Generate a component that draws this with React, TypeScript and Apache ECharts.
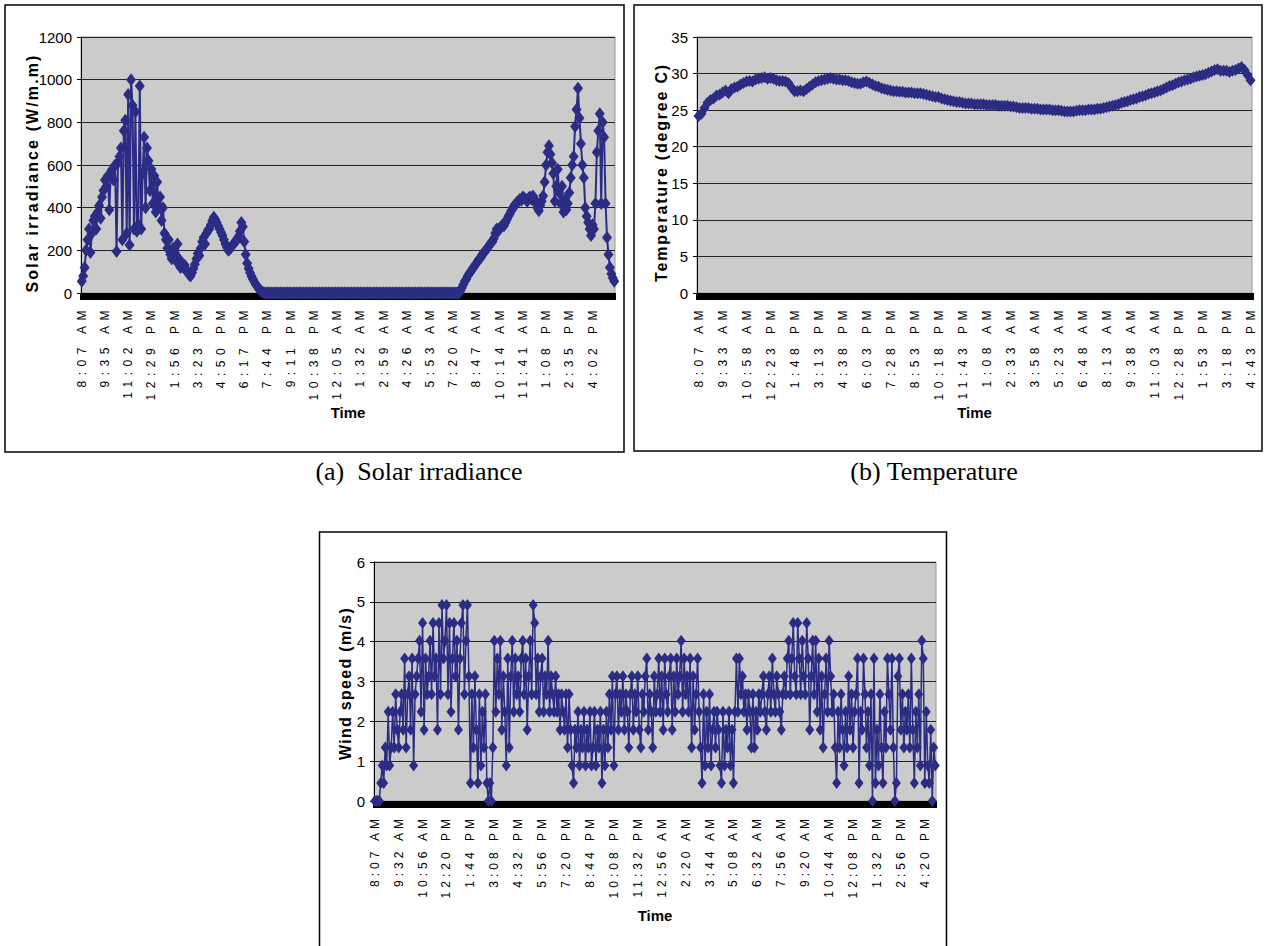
import React, { useEffect, useRef } from 'react';
import * as echarts from 'echarts';

// ---- tick labels ----
const solarLabels = ['8:07 AM', '9:35 AM', '11:02 AM', '12:29 PM', '1:56 PM', '3:23 PM', '4:50 PM', '6:17 PM', '7:44 PM', '9:11 PM', '10:38 PM', '12:05 AM', '1:32 AM', '2:59 AM', '4:26 AM', '5:53 AM', '7:20 AM', '8:47 AM', '10:14 AM', '11:41 AM', '1:08 PM', '2:35 PM', '4:02 PM'];
const tempLabels = ['8:07 AM', '9:33 AM', '10:58 AM', '12:23 PM', '1:48 PM', '3:13 PM', '4:38 PM', '6:03 PM', '7:28 PM', '8:53 PM', '10:18 PM', '11:43 PM', '1:08 AM', '2:33 AM', '3:58 AM', '5:23 AM', '6:48 AM', '8:13 AM', '9:38 AM', '11:03 AM', '12:28 PM', '1:53 PM', '3:18 PM', '4:43 PM'];
const windLabels = ['8:07 AM', '9:32 AM', '10:56 AM', '12:20 PM', '1:44 PM', '3:08 PM', '4:32 PM', '5:56 PM', '7:20 PM', '8:44 PM', '10:08 PM', '11:32 PM', '12:56 AM', '2:20 AM', '3:44 AM', '5:08 AM', '6:32 AM', '7:56 AM', '9:20 AM', '10:44 AM', '12:08 PM', '1:32 PM', '2:56 PM', '4:20 PM'];

// ---- series values (solar & wind: 16 samples per label step, temperature: 8) ----
const solarValues = [
  55, 80, 120, 200, 250, 300, 190, 280, 340, 360, 300, 380, 410, 350, 450, 480, 530, 500, 550, 390,
  560, 580, 530, 600, 195, 610, 640, 680, 250, 760, 810, 280, 930, 225, 1000, 880, 300, 850, 290, 320,
  970, 300, 560, 730, 400, 680, 620, 480, 580, 420, 550, 380, 520, 400, 450, 340, 400, 280, 250, 210,
  250, 180, 160, 210, 175, 150, 230, 160, 120, 140, 120, 130, 105, 100, 85, 80, 95, 115, 135, 160,
  185, 175, 210, 240, 260, 230, 280, 295, 300, 320, 340, 355, 345, 330, 315, 300, 285, 270, 250, 230,
  215, 200, 205, 215, 225, 235, 240, 250, 265, 290, 330, 310, 240, 180, 140, 115, 95, 78, 65, 52,
  40, 30, 20, 12, 6, 2,
  0, 0, 0, 0, 0, 0, 0, 0, 0, 0, 0, 0, 0, 0, 0,
  0, 0, 0, 0, 0, 0, 0, 0, 0, 0, 0, 0, 0, 0, 0,
  0, 0, 0, 0, 0, 0, 0, 0, 0, 0, 0, 0, 0, 0, 0,
  0, 0, 0, 0, 0, 0, 0, 0, 0, 0, 0, 0, 0, 0, 0,
  0, 0, 0, 0, 0, 0, 0, 0, 0, 0, 0, 0, 0, 0, 0,
  0, 0, 0, 0, 0, 0, 0, 0, 0, 0, 0, 0, 0, 0, 0,
  0, 0, 0, 0, 0, 0, 0, 0, 0, 0, 0, 0, 0, 0, 0,
  0, 0, 0, 0, 0, 0, 0, 0, 0, 0, 0, 0, 0, 0, 0,
  0, 0, 0, 0, 0, 0, 0, 0, 0, 0, 0, 0, 0, 0, 0,
  10, 25, 40, 55, 65, 80, 90, 100, 110, 120, 130, 140, 150, 160, 165, 180, 190, 195, 205, 215,
  225, 235, 240, 255, 280, 300, 290, 305, 310, 320, 315, 330, 345, 360, 370, 385, 395, 410, 415, 425,
  430, 440, 435, 450, 445, 440, 430, 445, 450, 440, 455, 440, 420, 400, 385, 410, 430, 455, 520, 600,
  660, 690, 650, 610, 560, 430, 500, 580, 470, 420, 500, 380, 440, 390, 420, 470, 540, 600, 640, 780,
  860, 960, 820, 700, 600, 540, 400, 360, 330, 300, 270, 320, 300, 420, 660, 760, 840, 420, 800, 730,
  420, 260, 180, 120, 90, 70, 55
];

const tempValues = [
  24.2, 24.5, 25.3, 26.0, 26.4, 26.6, 27.0, 27.1, 27.4, 27.7,
  27.3, 27.9, 28.1, 28.2, 28.5, 28.7, 28.9, 29.0, 28.9, 29.2,
  29.3, 29.4, 29.5, 29.3, 29.4, 29.3, 29.1, 29.0, 29.0, 28.9,
  28.7, 28.1, 27.6, 27.6, 27.7, 27.6, 27.9, 28.2, 28.5, 28.8,
  29.0, 29.1, 29.2, 29.3, 29.4, 29.3, 29.2, 29.2, 29.1, 29.1,
  29.0, 28.8, 28.7, 28.6, 28.6, 28.8, 28.9, 28.7, 28.5, 28.3,
  28.2, 28.0, 27.9, 27.8, 27.7, 27.6, 27.6, 27.5, 27.5, 27.4,
  27.4, 27.4, 27.3, 27.3, 27.3, 27.2, 27.1, 27.0, 26.9, 26.8,
  26.8, 26.6, 26.5, 26.4, 26.3, 26.2, 26.1, 26.1, 26.0, 25.9,
  25.9, 25.9, 25.8, 25.8, 25.8, 25.8, 25.7, 25.7, 25.7, 25.7,
  25.6, 25.6, 25.6, 25.6, 25.5, 25.5, 25.4, 25.3, 25.3, 25.3,
  25.3, 25.2, 25.2, 25.2, 25.1, 25.1, 25.1, 25.1, 25.0, 25.0,
  25.0, 24.9, 24.8, 24.8, 24.8, 24.8, 24.9, 25.0, 25.0, 25.0,
  25.1, 25.1, 25.1, 25.2, 25.2, 25.3, 25.4, 25.5, 25.6, 25.7,
  25.8, 26.0, 26.1, 26.2, 26.4, 26.5, 26.6, 26.8, 26.9, 27.0,
  27.2, 27.3, 27.4, 27.6, 27.7, 27.9, 28.1, 28.3, 28.4, 28.6,
  28.8, 28.9, 29.1, 29.2, 29.3, 29.5, 29.6, 29.7, 29.8, 29.9,
  30.1, 30.3, 30.5, 30.6, 30.4, 30.4, 30.4, 30.2, 30.4, 30.5,
  30.7, 30.9, 30.5, 29.8, 29.1
];

const windValues = [
  0, 0, 0, 0, 0.45, 0.89, 0.45, 1.34, 0.89, 2.24,
  0.89, 1.34, 2.24, 1.34, 2.68, 1.79, 1.34, 2.24, 2.68, 1.79,
  3.58, 1.34, 2.68, 3.13, 1.79, 3.58, 0.89, 2.68, 3.13, 3.58,
  4.02, 2.24, 4.47, 1.79, 3.58, 2.68, 3.13, 4.02, 2.68, 4.47,
  3.13, 3.58, 1.79, 4.47, 2.68, 4.92, 3.58, 4.02, 4.92, 2.68,
  4.47, 2.24, 3.58, 4.47, 3.13, 4.02, 1.79, 3.58, 4.47, 4.92,
  2.68, 4.02, 4.92, 3.13, 0.45, 2.68, 1.34, 3.13, 1.79, 0.45,
  2.68, 0.89, 2.24, 1.34, 2.68, 0.45, 0, 0.45, 0, 1.34,
  4.02, 2.24, 3.58, 2.68, 4.02, 1.79, 3.13, 2.24, 0.89, 3.58,
  1.34, 3.13, 4.02, 2.24, 3.58, 2.68, 3.13, 2.24, 3.58, 4.02,
  2.68, 3.58, 1.79, 3.13, 4.02, 2.68, 4.92, 4.47, 2.68, 3.58,
  2.24, 3.13, 3.58, 2.24, 3.13, 2.68, 4.02, 2.24, 3.13, 2.68,
  2.24, 3.13, 2.24, 2.68, 1.79, 2.68, 2.24, 1.79, 2.68, 1.34,
  2.68, 1.79, 0.89, 0.45, 1.79, 1.34, 2.24, 0.89, 1.79, 1.34,
  2.24, 0.89, 1.79, 1.34, 2.24, 0.89, 1.34, 2.24, 0.89, 1.79,
  1.34, 2.24, 0.45, 1.79, 0.89, 2.24, 1.34, 2.68, 1.79, 3.13,
  0.89, 2.68, 3.13, 1.79, 2.68, 2.24, 3.13, 1.79, 2.68, 2.24,
  1.34, 2.68, 3.13, 1.79, 2.68, 2.24, 3.13, 1.79, 1.34, 2.68,
  2.24, 3.13, 3.58, 1.79, 2.68, 2.24, 1.34, 3.13, 2.24, 2.68,
  3.58, 2.24, 3.13, 1.79, 3.58, 2.68, 2.24, 3.13, 3.58, 1.79,
  3.13, 2.24, 3.58, 2.68, 3.13, 4.02, 2.24, 3.58, 2.68, 3.13,
  2.24, 3.58, 1.34, 3.13, 1.79, 2.68, 3.58, 2.24, 1.34, 0.45,
  2.68, 0.89, 2.24, 1.34, 2.68, 0.89, 1.79, 2.24, 1.34, 2.24,
  1.79, 0.89, 0.45, 2.24, 0.89, 1.79, 1.34, 2.24, 0.89, 1.79,
  0.45, 2.24, 3.58, 2.24, 3.58, 2.68, 3.13, 2.24, 2.68, 1.79,
  2.68, 2.24, 1.34, 2.68, 1.34, 2.24, 1.79, 2.68, 2.24, 2.68,
  3.13, 2.24, 1.79, 2.68, 3.13, 2.24, 3.58, 2.68, 2.24, 3.13,
  2.68, 2.24, 1.79, 2.68, 3.13, 2.68, 3.58, 4.02, 2.68, 3.58,
  4.47, 3.13, 2.68, 4.47, 3.58, 2.68, 4.02, 3.13, 2.68, 4.47,
  3.58, 1.79, 3.13, 4.02, 2.68, 4.02, 2.24, 3.58, 1.79, 3.13,
  1.34, 2.68, 3.58, 2.24, 4.02, 3.13, 2.24, 2.68, 1.34, 0.45,
  2.24, 1.34, 2.68, 1.79, 0.89, 2.24, 1.34, 3.13, 1.79, 2.68,
  1.34, 2.24, 2.68, 3.58, 0.45, 2.24, 1.79, 3.58, 2.68, 1.34,
  2.24, 0.89, 2.68, 0, 3.58, 0.45, 1.79, 0.89, 2.68, 1.34,
  0.45, 2.24, 1.34, 3.58, 2.68, 1.79, 3.58, 1.34, 0, 0.45,
  3.13, 3.58, 1.79, 2.68, 1.34, 2.24, 1.79, 2.68, 1.34, 3.58,
  1.79, 0.45, 2.24, 1.34, 2.68, 0.89, 4.02, 3.58, 0.45, 2.24,
  0.89, 0.45, 1.79, 0, 1.34, 0.89
];

const solarTitle = 'Solar irradiance (W/m.m)';
const tempTitle = 'Temperature (degree C)';
const windTitle = 'Wind speed (m/s)';
const captionA = '(a)  Solar irradiance';
const captionB = '(b) Temperature';

const NAVY = '#2b2d84';
const SANS = "'Liberation Sans', Arial, sans-serif";
const SERIF = "'Liberation Serif', 'Times New Roman', serif";

function xAxis(gridIndex: number, count: number, labels: string[], step: number, margin: number, nameGap: number, tickWidth: number) {
  return {
    type: 'category',
    gridIndex,
    data: Array.from({ length: count }, (_, i) => String(i)),
    boundaryGap: true,
    axisLine: { show: true, lineStyle: { color: '#000', width: 1 } },
    axisTick: { show: true, interval: 0, length: 7, lineStyle: { color: '#000', width: tickWidth } },
    axisLabel: {
      interval: (idx: number) => idx % step === 0,
      rotate: 90,
      margin,
      fontSize: 12,
      color: '#000',
      fontFamily: SANS,
      formatter: (_v: string, idx: number) => (idx % step === 0 ? labels[idx / step] ?? '' : ''),
    },
    splitLine: { show: false },
    name: 'Time',
    nameLocation: 'middle',
    nameGap,
    nameMoveOverlap: false,
    nameTextStyle: { fontFamily: SANS, fontWeight: 'bold', fontSize: 15, color: '#000' },
  };
}

function yAxis(gridIndex: number, max: number, interval: number, name: string, nameGap: number, shiftPad: number) {
  return {
    type: 'value',
    gridIndex,
    min: 0,
    max,
    interval,
    axisLine: { show: true, lineStyle: { color: '#000', width: 1 } },
    axisTick: { show: true, length: 4, lineStyle: { color: '#000' } },
    splitLine: { show: true, lineStyle: { color: '#222', width: 1 } },
    axisLabel: { margin: 9, fontSize: 15, color: '#000', fontFamily: SANS, formatter: (v: number) => String(v) },
    name,
    nameLocation: 'middle',
    nameGap,
    nameMoveOverlap: false,
    nameTextStyle: { fontFamily: SANS, fontWeight: 'bold', fontSize: 16, color: '#000', padding: [0, shiftPad, 0, 0] },
  };
}

function lineSeries(idx: number, data: number[], size: number[], width: number) {
  return {
    type: 'line',
    xAxisIndex: idx,
    yAxisIndex: idx,
    data,
    symbol: 'diamond',
    symbolSize: size,
    showSymbol: true,
    showAllSymbol: true,
    lineStyle: { color: NAVY, width },
    itemStyle: { color: NAVY },
    emphasis: { disabled: true },
    silent: true,
    animation: false,
  };
}

export default function App() {
  const ref = useRef<HTMLDivElement>(null);
  useEffect(() => {
    const el = ref.current!;
    const chart = echarts.init(el, undefined, { renderer: 'svg' });
    const gridBase = { show: true, backgroundColor: '#cbcbcb', borderColor: '#999', borderWidth: 1, containLabel: false };
    chart.setOption({
      animation: false,
      backgroundColor: '#fff',
      grid: [
        { ...gridBase, left: 81, top: 37, width: 534, height: 256 },
        { ...gridBase, left: 697, top: 37, width: 555, height: 256 },
        { ...gridBase, left: 374, top: 562, width: 562, height: 239 },
      ],
      xAxis: [
        xAxis(0, solarValues.length, solarLabels, 16, 12, 112, 2),
        xAxis(1, tempValues.length, tempLabels, 8, 12, 112, 3),
        xAxis(2, windValues.length, windLabels, 16, 14, 107, 2),
      ],
      yAxis: [
        yAxis(0, 1200, 200, solarTitle, 41, 16),
        yAxis(1, 35, 5, tempTitle, 28, 15),
        yAxis(2, 6, 1, windTitle, 21, 4),
      ],
      series: [
        lineSeries(0, solarValues, [10, 13], 2),
        lineSeries(1, tempValues, [10, 12], 2),
        lineSeries(2, windValues, [9, 12], 1.5),
      ],
      graphic: [
        { type: 'rect', silent: true, shape: { x: 5, y: 5, width: 619, height: 447 }, style: { fill: 'none', stroke: '#000', lineWidth: 1.5 } },
        { type: 'rect', silent: true, shape: { x: 634, y: 5, width: 628, height: 446 }, style: { fill: 'none', stroke: '#000', lineWidth: 1.5 } },
        { type: 'rect', silent: true, shape: { x: 319.5, y: 532, width: 627, height: 430 }, style: { fill: 'none', stroke: '#000', lineWidth: 1.5 } },
        { type: 'text', silent: true, x: 419, y: 471, style: { text: captionA, fontFamily: SERIF, fontSize: 26, fill: '#000', align: 'center', verticalAlign: 'middle' } },
        { type: 'text', silent: true, x: 934, y: 471, style: { text: captionB, fontFamily: SERIF, fontSize: 26, fill: '#000', align: 'center', verticalAlign: 'middle' } },
      ],
    });

    const timeSet = new Set([...solarLabels, ...tempLabels, ...windLabels]);
    const spacing: Record<string, string> = { [solarTitle]: '2.1', [tempTitle]: '1.8', [windTitle]: '1.3' };
    const applySpacing = () => {
      el.querySelectorAll('text').forEach((t) => {
        const s = (t.textContent || '').trim();
        if (timeSet.has(s)) {
          const top = t.getBoundingClientRect().top;
          t.setAttribute('letter-spacing', top > 500 ? '4' : '5.5');
        } else if (spacing[s]) {
          t.setAttribute('letter-spacing', spacing[s]);
        } else if (s === captionA.trim()) {
          (t as SVGTextElement).style.whiteSpace = 'pre';
        }
      });
    };
    applySpacing();
    chart.on('finished', applySpacing);
    const timer = window.setTimeout(applySpacing, 50);
    return () => {
      window.clearTimeout(timer);
      chart.dispose();
    };
  }, []);
  return <div ref={ref} style={{ position: 'absolute', left: 0, top: 0, width: 1268, height: 946, background: '#fff' }} />;
}
